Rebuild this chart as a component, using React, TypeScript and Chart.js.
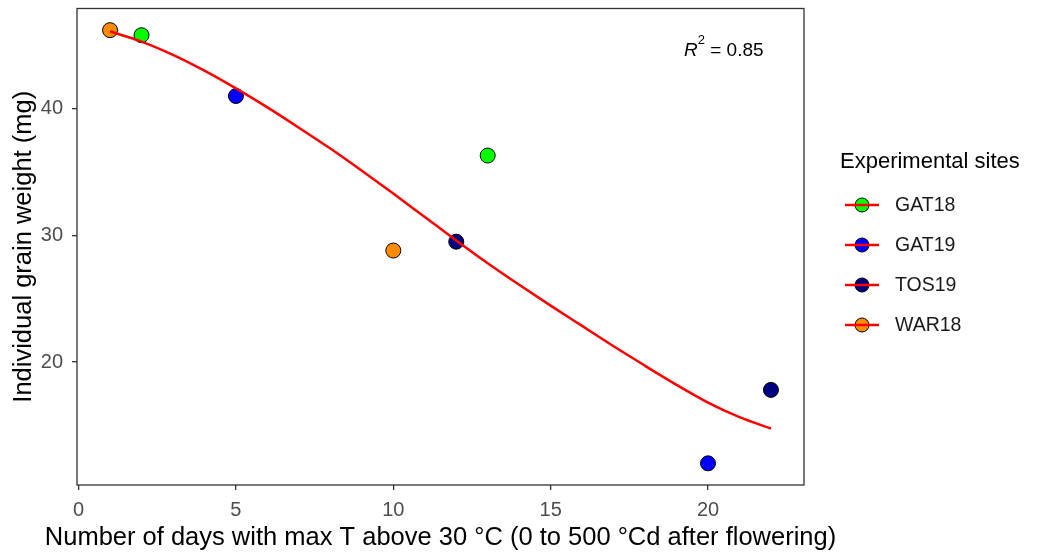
import React, { useEffect, useRef } from "react";
import { Chart, registerables } from "chart.js";

Chart.register(...registerables);

const sites = ["GAT18", "GAT19", "TOS19", "WAR18"];
const siteColors = ["#00FF00", "#0000FF", "#000080", "#FF8C00"];

const gat18X = [2, 13];
const gat18Y = [45.8, 36.3];
const gat19X = [5, 20];
const gat19Y = [41.0, 12.0];
const tos19X = [12, 22];
const tos19Y = [29.5, 17.8];
const war18X = [1, 10];
const war18Y = [46.2, 28.8];

const fitX = [1, 2, 3, 4, 5, 6, 7, 8, 9, 10, 11, 12, 13, 14, 15, 16, 17, 18, 19, 20, 21, 22];
const fitY = [46.1, 45.3, 44.25, 43.0, 41.6, 40.1, 38.5, 36.85, 35.1, 33.3, 31.45, 29.6, 27.8, 26.1, 24.45, 22.85, 21.25, 19.7, 18.2, 16.8, 15.65, 14.75];

const xTicks = [0, 5, 10, 15, 20];
const yTicks = [20, 30, 40];

const xTitle = "Number of days with max T above 30 °C (0 to 500 °Cd after flowering)";
const yTitle = "Individual grain weight (mg)";
const legendTitle = "Experimental sites";
const r2Label = "0.85";

const FONT = "'Liberation Sans', Arial, sans-serif";

const toPts = (xs: number[], ys: number[]) => xs.map((x, i) => ({ x, y: ys[i] }));

export default function App() {
  const ref = useRef<HTMLCanvasElement>(null);

  useEffect(() => {
    if (!ref.current) return;
    const seriesX = [gat18X, gat19X, tos19X, war18X];
    const seriesY = [gat18Y, gat19Y, tos19Y, war18Y];

    const decor = {
      id: "decor",
      afterDraw(chart: any) {
        const { ctx, chartArea: a, scales } = chart;
        ctx.save();
        // panel border
        ctx.strokeStyle = "#333333";
        ctx.lineWidth = 1.3;
        ctx.strokeRect(a.left, a.top, a.right - a.left, a.bottom - a.top);

        // x axis title (drawn without width constraint)
        ctx.fillStyle = "#000000";
        ctx.font = `25.5px ${FONT}`;
        ctx.textAlign = "center";
        ctx.textBaseline = "middle";
        ctx.fillText(xTitle, (a.left + a.right) / 2, 538);

        // R^2 annotation
        const cx = scales.x.getPixelForValue(20.5);
        const cy = scales.y.getPixelForValue(44.6);
        ctx.fillStyle = "#000000";
        ctx.textBaseline = "middle";
        ctx.font = `italic 19px ${FONT}`;
        const rW = ctx.measureText("R").width;
        ctx.font = `13px ${FONT}`;
        const sW = ctx.measureText("2").width;
        ctx.font = `19px ${FONT}`;
        const rest = " = " + r2Label;
        const restW = ctx.measureText(rest).width;
        const x0 = cx - (rW + sW + restW) / 2;
        ctx.textAlign = "left";
        ctx.font = `italic 19px ${FONT}`;
        ctx.fillText("R", x0, cy);
        ctx.font = `13px ${FONT}`;
        ctx.fillText("2", x0 + rW, cy - 10);
        ctx.font = `19px ${FONT}`;
        ctx.fillText(rest, x0 + rW + sW, cy);

        // legend
        const lx = 840;
        ctx.fillStyle = "#000000";
        ctx.font = `22px ${FONT}`;
        ctx.textBaseline = "middle";
        ctx.fillText(legendTitle, lx, 162);
        sites.forEach((s, i) => {
          const y = 205 + i * 40;
          ctx.beginPath();
          ctx.arc(862, y, 7, 0, Math.PI * 2);
          ctx.fillStyle = siteColors[i];
          ctx.fill();
          ctx.strokeStyle = "#000000";
          ctx.lineWidth = 1;
          ctx.stroke();
          ctx.strokeStyle = "#FF0000";
          ctx.lineWidth = 2.5;
          ctx.beginPath();
          ctx.moveTo(845, y);
          ctx.lineTo(879, y);
          ctx.stroke();
          ctx.fillStyle = "#1a1a1a";
          ctx.font = `19.5px ${FONT}`;
          ctx.fillText(s, 895, y + 1);
        });
        ctx.restore();
      },
    };

    const chart = new Chart(ref.current, {
      type: "scatter",
      data: {
        datasets: [
          {
            type: "line",
            label: "fit",
            data: toPts(fitX, fitY),
            borderColor: "#FF0000",
            borderWidth: 2.5,
            pointRadius: 0,
            cubicInterpolationMode: "monotone",
            fill: false,
            order: 0,
          } as any,
          ...sites.map((s, i) => ({
            label: s,
            data: toPts(seriesX[i], seriesY[i]),
            backgroundColor: siteColors[i],
            borderColor: "#000000",
            borderWidth: 1,
            pointRadius: 7.5,
            order: 1,
          })),
        ],
      },
      options: {
        animation: false,
        responsive: false,
        maintainAspectRatio: false,
        layout: { padding: { top: 8, right: 250, left: 0, bottom: 0 } },
        plugins: { legend: { display: false }, tooltip: { enabled: false } },
        scales: {
          x: {
            type: "linear",
            min: -0.05,
            max: 23.05,
            afterBuildTicks: (sc: any) => {
              sc.ticks = xTicks.map((v) => ({ value: v }));
            },
            afterFit: (sc: any) => {
              sc.height = 69;
              sc.paddingLeft = 0;
              sc.paddingRight = 0;
            },
            grid: { drawOnChartArea: false, drawTicks: true, tickLength: 5, color: "#333333", lineWidth: 1.3 },
            border: { display: false },
            ticks: { color: "#4D4D4D", font: { family: FONT, size: 20 }, padding: 8 },
            title: { display: false },
          },
          y: {
            type: "linear",
            min: 10.29,
            max: 47.91,
            afterBuildTicks: (sc: any) => {
              sc.ticks = yTicks.map((v) => ({ value: v }));
            },
            afterFit: (sc: any) => {
              sc.width = 77;
              sc.paddingTop = 0;
              sc.paddingBottom = 0;
            },
            grid: { drawOnChartArea: false, drawTicks: true, tickLength: 5, color: "#333333", lineWidth: 1.3 },
            border: { display: false },
            ticks: { color: "#4D4D4D", font: { family: FONT, size: 20 }, padding: 9 },
            title: {
              display: true,
              text: yTitle,
              color: "#000000",
              font: { family: FONT, size: 25.5 },
              padding: { top: 9, bottom: 0 },
            },
          },
        },
      },
      plugins: [decor],
    } as any);
    return () => chart.destroy();
  }, []);

  return (
    <div style={{ position: "absolute", left: 0, top: 0, width: 1054, height: 554, background: "#fff" }}>
      <canvas ref={ref} width={1054} height={554} style={{ width: 1054, height: 554 }} />
    </div>
  );
}
